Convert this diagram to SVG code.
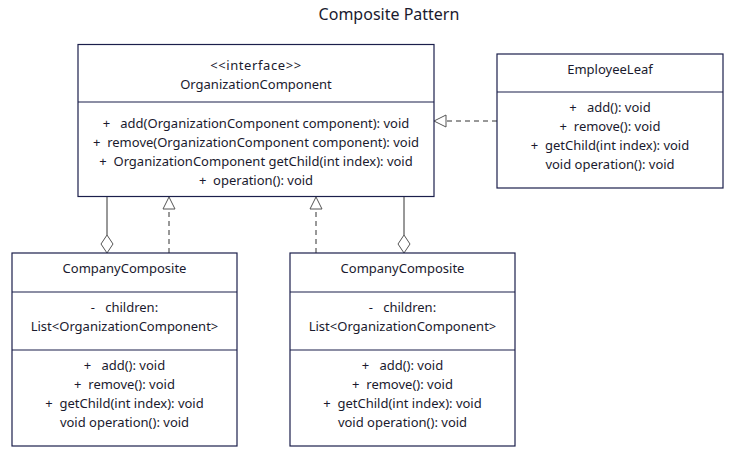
<svg xmlns="http://www.w3.org/2000/svg" width="737" height="457" viewBox="0 0 737 457">
<defs>
<style>
.box{fill:#ffffff;stroke:#1b1f4b;stroke-width:1.2}
.div{stroke:#1b1f4b;stroke-width:1.2}
text{font-family:"Noto Sans","Liberation Sans",sans-serif;font-size:13px;fill:#1a1a2e;text-anchor:middle;dominant-baseline:central;white-space:pre}
.title{font-size:16px}
.line{stroke:#333;stroke-width:1;fill:none}
.dash{stroke:#333;stroke-width:1;fill:none;stroke-dasharray:5,4}
.head{fill:#ffffff;stroke:#555;stroke-width:1}
</style>
</defs>
<rect width="737" height="457" fill="#ffffff"/>
<text class="title" x="389" y="14">Composite Pattern</text>

<g id="connectors">
<line class="line" x1="107" y1="197" x2="107" y2="235"/>
<polygon class="head" points="107,235 113,244 107,253 101,244"/>
<line class="dash" x1="169" y1="253" x2="169" y2="209"/>
<polygon class="head" points="169,197 175,209 163,209"/>
<line class="dash" x1="316" y1="253" x2="316" y2="209"/>
<polygon class="head" points="316,197 322,209 310,209"/>
<line class="line" x1="404" y1="197" x2="404" y2="235"/>
<polygon class="head" points="404,235 410,244 404,253 398,244"/>
<line class="dash" x1="497" y1="121" x2="447" y2="121"/>
<polygon class="head" points="434,121 446,115 446,127"/>
</g>

<g id="OrganizationComponent">
<rect class="box" x="78" y="44.5" width="356" height="152"/>
<line class="div" x1="78" y1="102" x2="434" y2="102"/>
<text x="256" y="65" letter-spacing="0.6">&lt;&lt;interface&gt;&gt;</text>
<text x="256" y="84">OrganizationComponent</text>
<text x="256" y="123" xml:space="preserve">+   add(OrganizationComponent component): void</text>
<text x="256" y="142" xml:space="preserve">+  remove(OrganizationComponent component): void</text>
<text x="256" y="161" xml:space="preserve">+  OrganizationComponent getChild(int index): void</text>
<text x="256" y="180" xml:space="preserve">+  operation(): void</text>
</g>

<g id="EmployeeLeaf">
<rect class="box" x="497" y="54" width="226" height="134"/>
<line class="div" x1="497" y1="92" x2="723" y2="92"/>
<text x="610" y="69">EmployeeLeaf</text>
<text x="610" y="107" xml:space="preserve">+   add(): void</text>
<text x="610" y="126" xml:space="preserve">+  remove(): void</text>
<text x="610" y="145" xml:space="preserve">+  getChild(int index): void</text>
<text x="610" y="164">void operation(): void</text>
</g>

<g id="CompanyComposite1">
<rect class="box" x="12" y="253" width="225" height="193"/>
<line class="div" x1="12" y1="292" x2="237" y2="292"/>
<line class="div" x1="12" y1="350" x2="237" y2="350"/>
<text x="124.5" y="268">CompanyComposite</text>
<text x="124.5" y="307" xml:space="preserve">-   children:</text>
<text x="124.5" y="326">List&lt;OrganizationComponent&gt;</text>
<text x="124.5" y="365" xml:space="preserve">+   add(): void</text>
<text x="124.5" y="384" xml:space="preserve">+  remove(): void</text>
<text x="124.5" y="403" xml:space="preserve">+  getChild(int index): void</text>
<text x="124.5" y="422">void operation(): void</text>
</g>

<g id="CompanyComposite2">
<rect class="box" x="290" y="253" width="225" height="193"/>
<line class="div" x1="290" y1="292" x2="515" y2="292"/>
<line class="div" x1="290" y1="350" x2="515" y2="350"/>
<text x="402.5" y="268">CompanyComposite</text>
<text x="402.5" y="307" xml:space="preserve">-   children:</text>
<text x="402.5" y="326">List&lt;OrganizationComponent&gt;</text>
<text x="402.5" y="365" xml:space="preserve">+   add(): void</text>
<text x="402.5" y="384" xml:space="preserve">+  remove(): void</text>
<text x="402.5" y="403" xml:space="preserve">+  getChild(int index): void</text>
<text x="402.5" y="422">void operation(): void</text>
</g>
</svg>
